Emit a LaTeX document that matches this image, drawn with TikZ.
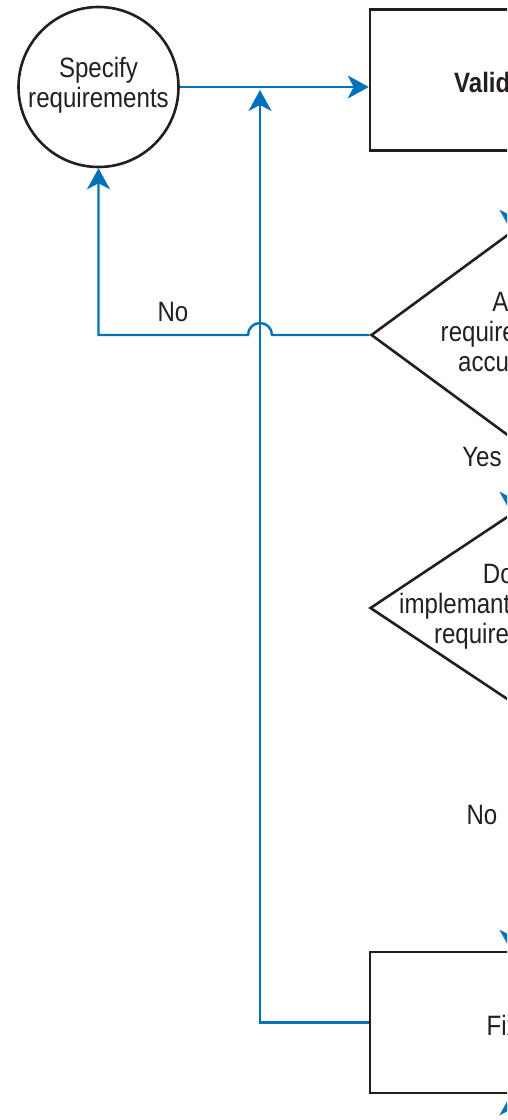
\documentclass[tikz,border=0pt]{standalone}
\usepackage{fontspec}
\setmainfont[FakeStretch=0.86]{Liberation Sans}
\usetikzlibrary{shapes.geometric,arrows.meta,calc}
\definecolor{flowblue}{RGB}{0,114,188}
\definecolor{ink}{RGB}{35,31,32}
\begin{document}
\begin{tikzpicture}[x=1pt,y=-1pt,
  lbl/.style={font=\fontsize{28}{30}\selectfont, text=ink, inner sep=0pt, align=center},
  boldlbl/.style={lbl, font=\fontsize{28}{30}\selectfont\bfseries},
  shapeline/.style={draw=ink, line width=2.6pt, inner sep=0pt},
  flow/.style={draw=flowblue, line width=2.4pt, -{Stealth[length=21pt,width=23pt,inset=6pt]}},
  flowline/.style={draw=flowblue, line width=2.4pt}]
\useasboundingbox (0,0) rectangle (507,1120);
\clip (0,0) rectangle (507,1120);
% shapes
\node[circle, shapeline, minimum size=160pt] (spec) at (98.5,87) {};
\node[lbl] (spect) at (98.5,85) {Specify\\requirements};
\node[rectangle, shapeline, minimum width=282pt, minimum height=141pt] (val) at (511,80) {};
\node[boldlbl] (valt) at (511,82) {Validation};
\node[diamond, shapeline, minimum width=280pt, minimum height=206pt] (d1) at (511,335) {};
\node[lbl] (d1t) at (511,332) {Are\\requirements\\accurate?};
\node[diamond, shapeline, minimum width=282pt, minimum height=188pt] (d2) at (511,608) {};
\node[lbl] (d2t) at (511,607) {Does\\implemantation meet\\requirements?};
\node[rectangle, shapeline, minimum width=282pt, minimum height=141pt] (fix) at (511,1022.5) {};
\node[lbl, anchor=west] (fixt) at (486.5,1025) {Fix};
% helper coordinates
\coordinate (hopR) at (272,335);
\coordinate (jtop) at (260,90);
\coordinate (below) at (511,1160);
% connectors
\draw[flow] (spec.east) -- (spec.east -| val.west);
\draw[flow] (d1.west) -- (d1.west -| hopR) arc[start angle=0, end angle=180, radius=12pt]
  -- (d1.west -| spec.south) -- (spec.south);
\draw[flow] (fix.west) -| (jtop);
\draw[flow] (val.south) -- (d1.north);
\draw[flow] (d1.south) -- (d2.north);
\draw[flow] (d2.south) -- (fix.north);
\draw[flow] (below) -- (fix.south);
% labels
\node[lbl] (no1) at (173,312) {No};
\node[lbl] (yes) at (482,457) {Yes};
\node[lbl] (no2) at (482,815) {No};
\end{tikzpicture}
\end{document}
